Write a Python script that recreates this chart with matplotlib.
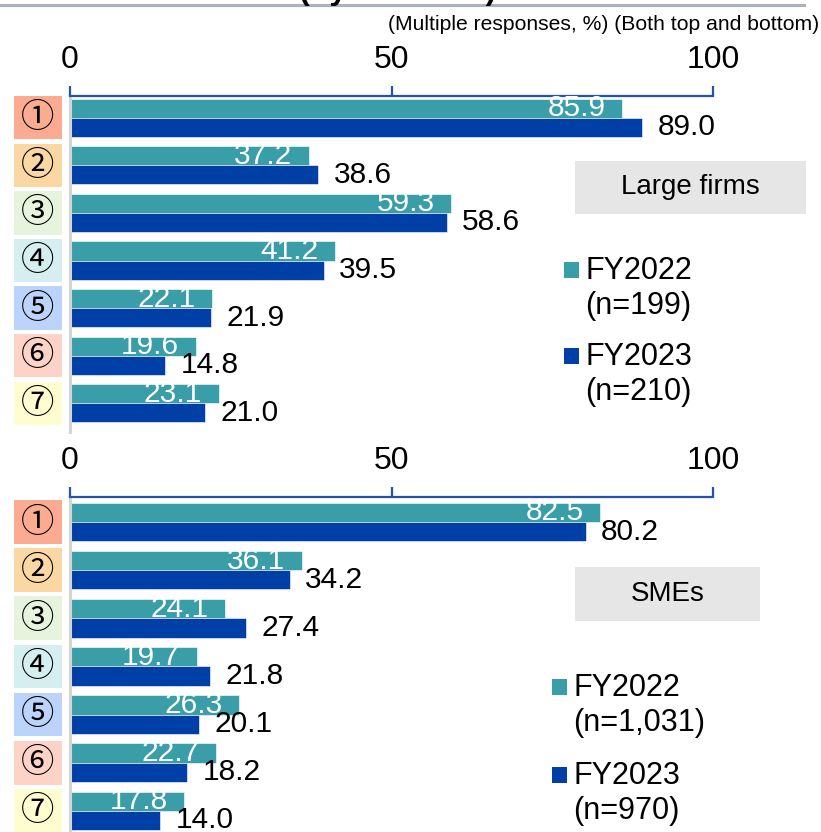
import matplotlib
matplotlib.use("Agg")
import matplotlib.pyplot as plt
from matplotlib.patches import Rectangle
from matplotlib.transforms import blended_transform_factory
import numpy as np

plt.rcParams['font.family'] = ['Liberation Sans', 'DejaVu Sans']

# ---- data ----
items = ["①", "②", "③", "④", "⑤", "⑥", "⑦"]
item_colors = ["#fcab93", "#fad7a3", "#e6f4de", "#d5eef0", "#bcd4fc", "#fdd3c8", "#fefdd0"]

large_fy2022 = [85.9, 37.2, 59.3, 41.2, 22.1, 19.6, 23.1]
large_fy2023 = [89.0, 38.6, 58.6, 39.5, 21.9, 14.8, 21.0]
sme_fy2022 = [82.5, 36.1, 24.1, 19.7, 26.3, 22.7, 17.8]
sme_fy2023 = [80.2, 34.2, 27.4, 21.8, 20.1, 18.2, 14.0]

panel_titles = ["Large firms", "SMEs"]
legend_2022 = ["FY2022\n(n=199)", "FY2022\n(n=1,031)"]
legend_2023 = ["FY2023\n(n=210)", "FY2023\n(n=970)"]
x_ticks = [0, 50, 100]

C22 = "#3a9ea8"
C23 = "#003fa5"
SPINE = "#2452b0"

W, H = 821, 832
fig = plt.figure(figsize=(W / 100, H / 100), dpi=100)


def fx(px):
    return px / W


def fy(py):
    return 1 - py / H


def draw_panel(rect_px, ylim, v22, v23, title, box_px, leg_px, lab22, lab23):
    x0, y0, x1, y1 = rect_px
    ax = fig.add_axes([fx(x0), fy(y1), fx(x1) - fx(x0), fy(y0) - fy(y1)])
    ax.set_xlim(0, 100)
    ax.set_ylim(*ylim)
    pos = np.arange(len(items))
    bh = 0.40
    ax.barh(pos - bh / 2, v22, height=bh, color=C22, edgecolor="white", linewidth=0.4)
    ax.barh(pos + bh / 2, v23, height=bh, color=C23, edgecolor="white", linewidth=0.4)

    for p, a, b in zip(pos, v22, v23):
        ax.annotate(f"{a:.1f}", (a, p - bh / 2), xytext=(-12, 0), textcoords="offset points",
                    ha="right", va="center", color="white", fontsize=21.5)
        ax.annotate(f"{b:.1f}", (b, p + bh / 2), xytext=(11, 0), textcoords="offset points",
                    ha="left", va="center", color="black", fontsize=21.5)

    # top axis
    for s in ["right", "bottom"]:
        ax.spines[s].set_visible(False)
    ax.spines["top"].set_color(SPINE)
    ax.spines["top"].set_linewidth(1.6)
    ax.spines["left"].set_color("#d4d4d4")
    ax.spines["left"].set_linewidth(2.2)
    ax.xaxis.tick_top()
    ax.set_xticks(x_ticks)
    ax.set_xticklabels([str(t) for t in x_ticks])
    ax.tick_params(axis="x", direction="out", length=7, width=1.6, color=SPINE,
                   labelsize=23, pad=8)
    ax.set_yticks([])

    # category boxes with circled numbers
    tr = blended_transform_factory(fig.transFigure, ax.transData)
    bhgt = 44 / 48.3
    for p, lab, col in zip(pos, items, item_colors):
        ax.add_patch(Rectangle((fx(14), p - bhgt / 2), fx(62) - fx(14), bhgt,
                               transform=tr, facecolor=col, edgecolor="none", clip_on=False))
        ax.text(fx(38), p, lab, transform=tr, ha="center", va="center", fontsize=24,
                family=["Noto Sans CJK JP", "DejaVu Sans"], color="black")

    # panel title box
    bx0, by0, bx1, by1 = box_px
    fig.patches.append(Rectangle((fx(bx0), fy(by1)), fx(bx1) - fx(bx0), fy(by0) - fy(by1),
                                 transform=fig.transFigure, facecolor="#e6e6e6", edgecolor="none"))
    fig.text(fx((bx0 + bx1) / 2), fy((by0 + by1) / 2), title, ha="center", va="center",
             fontsize=20)

    # legend
    mx, ty1, ty2 = leg_px
    for (yy, lab, col) in [(ty1, lab22, C22), (ty2, lab23, C23)]:
        fig.patches.append(Rectangle((fx(mx), fy(yy + 8)), fx(mx + 15) - fx(mx), fy(yy - 8) - fy(yy + 8),
                                     transform=fig.transFigure, facecolor=col, edgecolor="none"))
        fig.text(fx(mx + 21), fy(yy - 14), lab, ha="left", va="top", fontsize=22,
                 linespacing=1.2)
    return ax


draw_panel((70, 96, 713, 432), (6.6, -0.455), large_fy2022, large_fy2023, panel_titles[0],
           (575, 161, 806, 214), (564, 270, 356), legend_2022[0], legend_2023[0])
draw_panel((70, 497, 713, 832), (6.44, -0.52), sme_fy2022, sme_fy2023, panel_titles[1],
           (575, 567, 760, 621), (552, 687, 775), legend_2022[1], legend_2023[1])

# header rule, title and note
fig.add_artist(plt.Line2D([0, fx(804)], [fy(5), fy(5)], color="#a9b0bf", linewidth=2.2,
                          transform=fig.transFigure))
fig.text(fx(398), fy(-1.5), "(by firm size)", ha="center", va="baseline", fontsize=23,
         fontweight="bold")
fig.text(fx(819), fy(24), "(Multiple responses, %) (Both top and bottom)", ha="right",
         va="center", fontsize=15.2)

fig.savefig("out.png", dpi=100)
